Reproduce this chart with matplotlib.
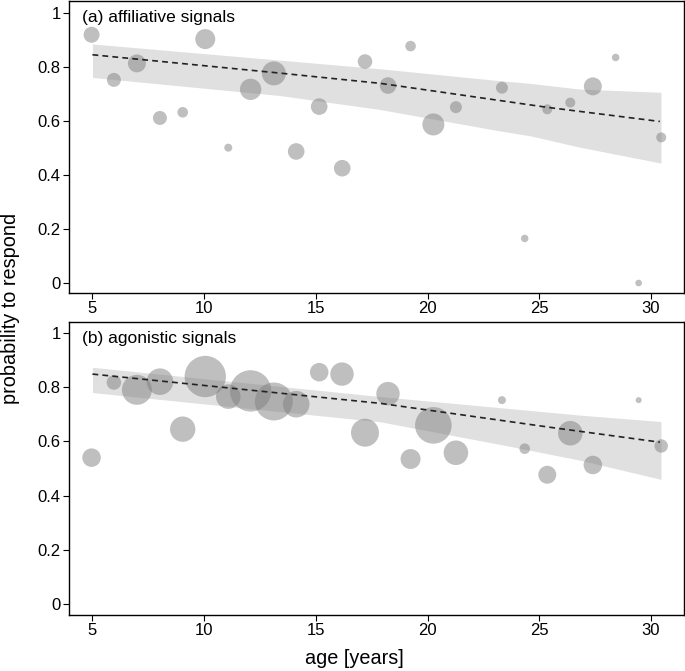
import matplotlib.pyplot as plt
import numpy as np

plt.rcParams['font.family'] = ['Liberation Sans', 'DejaVu Sans']

# (a) affiliative signals: age, proportion responded, number of trials (marker area)
age_a = [4.96, 5.96, 6.99, 8.02, 9.04, 10.05, 11.08, 12.08, 13.12, 14.12, 15.15, 16.18, 17.2,
         18.23, 19.24, 20.26, 21.27, 23.33, 24.35, 25.36, 26.39, 27.40, 28.42, 29.45, 30.46]
resp_a = [0.919, 0.752, 0.813, 0.611, 0.632, 0.903, 0.501, 0.717, 0.776, 0.487, 0.653, 0.425, 0.820,
          0.731, 0.877, 0.587, 0.651, 0.723, 0.165, 0.643, 0.668, 0.728, 0.835, 0.0, 0.539]
n_a = [64, 49, 81, 49, 28, 100, 16, 114, 144, 69, 69, 69, 53,
       69, 28, 121, 36, 36, 14, 25, 25, 81, 14, 11, 25]

fit_age_a = [5, 13.4, 17.9, 25.3, 30.4]
fit_a = [0.845, 0.777, 0.739, 0.651, 0.598]
band_age_a = [5, 13.4, 17.9, 23.1, 24.6, 26.8, 30.45]
hi_a = [0.885, 0.825, 0.793, 0.750, 0.739, 0.718, 0.706]
lo_a = [0.761, 0.694, 0.642, 0.565, 0.545, 0.503, 0.444]

# (b) agonistic signals
age_b = [4.96, 5.96, 6.99, 8.02, 9.04, 10.05, 11.08, 12.08, 13.12, 14.12, 15.15, 16.17,
         17.2, 18.23, 19.24, 20.26, 21.27, 23.33, 24.35, 25.36, 26.39, 27.40, 29.45, 30.46]
resp_b = [0.540, 0.817, 0.790, 0.820, 0.645, 0.839, 0.765, 0.786, 0.747, 0.737, 0.855, 0.848,
          0.632, 0.776, 0.535, 0.659, 0.558, 0.752, 0.573, 0.477, 0.630, 0.513, 0.752, 0.583]
n_b = [86, 53, 225, 177, 161, 428, 151, 428, 361, 177, 86, 137,
       196, 137, 100, 335, 151, 16, 28, 81, 151, 86, 9, 45]

fit_age_b = [5, 17.9, 25.3, 30.4]
fit_b = [0.848, 0.740, 0.654, 0.597]
band_age_b = [5, 17.9, 23.8, 26.8, 30.45]
hi_b = [0.873, 0.765, 0.720, 0.697, 0.673]
lo_b = [0.780, 0.672, 0.580, 0.531, 0.460]

xticks = [5, 10, 15, 20, 25, 30]
yticks = [0, 0.2, 0.4, 0.6, 0.8, 1]
ytick_labels = ['0', '0.2', '0.4', '0.6', '0.8', '1']


def panel(ax, ages, resp, n, fit_age, fit, band_age, lo, hi, title, ylim):
    ax.fill_between(band_age, lo, hi, color='#e0e0e0', lw=0, zorder=1)
    ax.scatter(ages, resp, s=np.array(n) * 2.07, color='#808080', alpha=0.5,
               edgecolors='none', zorder=2)
    ax.plot(fit_age, fit, color='#222222', lw=1.2, ls=(0, (3.5, 2.5)), zorder=3)
    ax.set_xlim(3.95, 31.48)
    ax.set_ylim(*ylim)
    ax.set_xticks(xticks)
    ax.set_yticks(yticks)
    ax.set_yticklabels(ytick_labels)
    ax.tick_params(direction='out', length=4, width=0.8, labelsize=12, pad=2)
    for sp in ax.spines.values():
        sp.set_linewidth(1.0)
    ax.text(0.021, 0.945, title, transform=ax.transAxes, fontsize=12.5,
            va='center', ha='left')


fig = plt.figure(figsize=(6.85, 6.71), dpi=100)
ax_a = fig.add_axes([69 / 685, 1 - 293 / 671, 615 / 685, 292 / 671])
ax_b = fig.add_axes([69 / 685, 1 - 615 / 671, 615 / 685, 293 / 671])

panel(ax_a, age_a, resp_a, n_a, fit_age_a, fit_a, band_age_a, lo_a, hi_a,
      '(a) affiliative signals', (-0.037, 1.044))
panel(ax_b, age_b, resp_b, n_b, fit_age_b, fit_b, band_age_b, lo_b, hi_b,
      '(b) agonistic signals', (-0.04, 1.04))

fig.text(354 / 685, 1 - 658 / 671, 'age [years]', fontsize=14.3, ha='center', va='center')
fig.text(11 / 685, 1 - 308 / 671, 'probability to respond', fontsize=14.3,
         rotation=90, ha='center', va='center')

fig.savefig('out.png', dpi=100)
